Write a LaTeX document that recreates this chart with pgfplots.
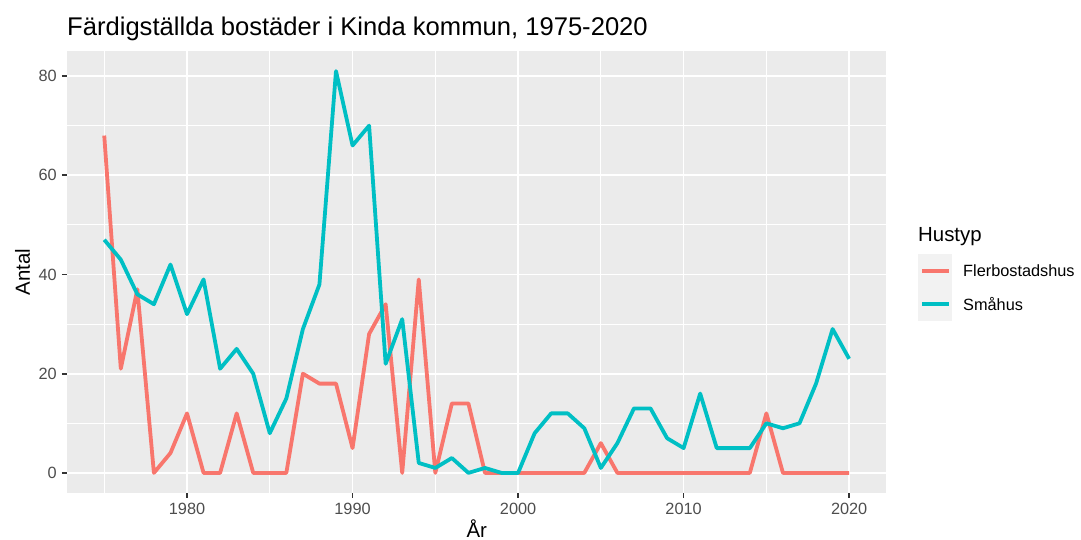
\documentclass[border=0pt]{standalone}
\usepackage{pgfplots}
\pgfplotsset{compat=1.18}
\usepackage{fontspec}
\setmainfont{Liberation Sans}
\definecolor{redc}{HTML}{F8766D}
\definecolor{tealc}{HTML}{00BFC4}
\definecolor{panelbg}{HTML}{EBEBEB}
\definecolor{tickc}{HTML}{333333}
\definecolor{ticklab}{HTML}{4D4D4D}
\definecolor{keybg}{HTML}{F2F2F2}
\begin{document}
\begin{tikzpicture}
\path[use as bounding box] (-67pt,-47pt) rectangle (1014pt,493pt);
\begin{axis}[
  scale only axis,
  width=819.4pt, height=442pt,
  xmin=1972.75, xmax=2022.25, ymin=-4.05, ymax=85.05,
  axis background/.style={fill=panelbg},
  axis line style={draw=none},
  xtick={1980,1990,2000,2010,2020},
  ytick={0,20,40,60,80},
  minor xtick={1975,1985,1995,2005,2015},
  minor ytick={10,30,50,70},
  grid=both,
  major grid style={white, line width=1.7pt},
  minor grid style={white, line width=0.85pt},
  tick align=outside,
  major tick length=5pt,
  minor tick length=0pt,
  tick style={tickc, line width=1.7pt},
  xtick pos=bottom, ytick pos=left,
  /pgf/number format/assume math mode=true,
  /pgf/number format/1000 sep={},
  tick label style={font=\fontsize{16.3}{18}\selectfont, text=ticklab},
  xticklabel style={inner sep=0pt, yshift=-5pt},
  yticklabel style={inner sep=0pt, xshift=-5pt},
  title={Färdigställda bostäder i Kinda kommun, 1975-2020},
  title style={at={(axis description cs:0,1)}, anchor=base west, yshift=9pt, inner sep=0pt, font=\fontsize{25.6}{30}\selectfont},
  xlabel={År},
  xlabel style={at={(axis description cs:0.5,-0.1)}, anchor=base, inner sep=0pt, font=\fontsize{20.4}{24}\selectfont},
  ylabel={Antal},
  ylabel style={at={(axis description cs:-0.0543,0.5)}, anchor=center, inner sep=0pt, font=\fontsize{20.4}{24}\selectfont},
  clip=false,
]
\addplot[redc, line width=3.8pt, line join=round] coordinates {
(1975,68) (1976,21) (1977,37) (1978,0) (1979,4) (1980,12) (1981,0) (1982,0)
(1983,12) (1984,0) (1985,0) (1986,0) (1987,20) (1988,18) (1989,18) (1990,5)
(1991,28) (1992,34) (1993,0) (1994,39) (1995,0) (1996,14) (1997,14) (1998,0)
(1999,0) (2000,0) (2001,0) (2002,0) (2003,0) (2004,0) (2005,6) (2006,0)
(2007,0) (2008,0) (2009,0) (2010,0) (2011,0) (2012,0) (2013,0) (2014,0)
(2015,12) (2016,0) (2017,0) (2018,0) (2019,0) (2020,0)
};
\addplot[tealc, line width=3.8pt, line join=round] coordinates {
(1975,47) (1976,43) (1977,36) (1978,34) (1979,42) (1980,32) (1981,39) (1982,21)
(1983,25) (1984,20) (1985,8) (1986,15) (1987,29) (1988,38) (1989,81) (1990,66)
(1991,70) (1992,22) (1993,31) (1994,2) (1995,1) (1996,3) (1997,0) (1998,1)
(1999,0) (2000,0) (2001,8) (2002,12) (2003,12) (2004,9) (2005,1) (2006,6)
(2007,13) (2008,13) (2009,7) (2010,5) (2011,16) (2012,5) (2013,5) (2014,5)
(2015,10) (2016,9) (2017,10) (2018,18) (2019,29) (2020,23)
};
\end{axis}
% legend
\node[anchor=base west, inner sep=0pt, font=\fontsize{20.4}{24}\selectfont] at (851pt,251pt) {Hustyp};
\fill[keybg] (851pt,172pt) rectangle (885pt,239pt);
\draw[redc, line width=3.8pt] (855pt,222pt) -- (882pt,222pt);
\draw[tealc, line width=3.8pt] (855pt,189pt) -- (882pt,189pt);
\node[anchor=west, inner sep=0pt, font=\fontsize{16.3}{18}\selectfont] at (896pt,222pt) {Flerbostadshus};
\node[anchor=west, inner sep=0pt, font=\fontsize{16.3}{18}\selectfont] at (896pt,189pt) {Småhus};
\end{tikzpicture}
\end{document}
